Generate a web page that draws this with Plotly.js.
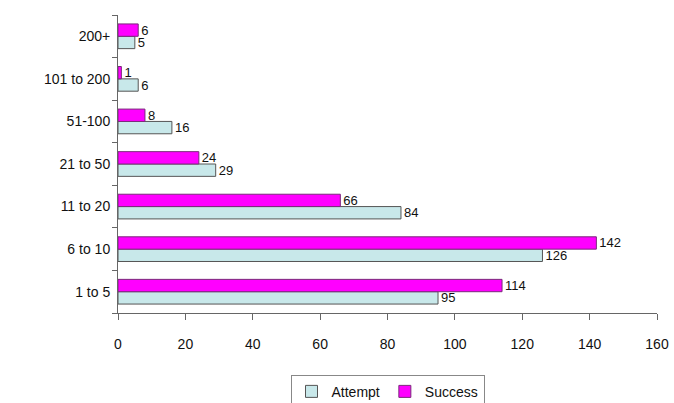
<!DOCTYPE html>
<html><head><meta charset="utf-8">
<script src="https://cdn.plot.ly/plotly-3.0.1.min.js"></script>
<style>body{margin:0;background:#fff}#c{width:674px;height:403px}</style>
</head><body><div id="c"></div>
<script>
const categories = ["1 to 5", "6 to 10", "11 to 20", "21 to 50", "51-100", "101 to 200", "200+"];
const attempt = [95, 126, 84, 29, 16, 6, 5];
const success = [114, 142, 66, 24, 8, 1, 6];
const xTicks = [0, 20, 40, 60, 80, 100, 120, 140, 160];

const common = {type: 'bar', orientation: 'h', textposition: 'outside', cliponaxis: false,
  constraintext: 'none', textangle: 0,
  textfont: {family: 'Arial, Liberation Sans', size: 13, color: '#111'}};
const traces = [
  Object.assign({}, common, {name: 'Attempt', x: attempt, y: categories, text: attempt.map(String),
    marker: {color: '#c8e8ea', line: {color: '#555', width: 1}}}),
  Object.assign({}, common, {name: 'Success', x: success, y: categories, text: success.map(String),
    marker: {color: '#ff00ff', line: {color: '#7a2a7a', width: 1}}})
];
const layout = {
  width: 674, height: 403,
  margin: {l: 118, r: 17, t: 15, b: 90, autoexpand: false},
  paper_bgcolor: '#fff', plot_bgcolor: '#fff',
  barmode: 'group', bargap: 0.42, bargroupgap: 0,
  font: {family: 'Arial, Liberation Sans', size: 14, color: '#111'},
  showlegend: true,
  legend: {orientation: 'h', x: 0.5, xanchor: 'center', yref: 'container', y: 0.07, yanchor: 'top',
    bordercolor: '#888', borderwidth: 1, font: {size: 14, color: '#111'},
    itemwidth: 30, traceorder: 'normal', tracegroupgap: 0},
  xaxis: {range: [0, 160], tickvals: xTicks, ticktext: xTicks.map(String), showgrid: false, zeroline: false,
    showline: true, linecolor: '#666', linewidth: 1, ticks: 'outside', ticklen: 6, tickcolor: '#666',
    ticklabelstandoff: 12, tickfont: {size: 14}, automargin: false},
  yaxis: {type: 'category', categoryarray: categories, showgrid: false, zeroline: false,
    showline: true, linecolor: '#666', linewidth: 1, ticks: 'outside', tickson: 'boundaries',
    ticklen: 5, tickcolor: '#666', ticklabelstandoff: 4, tickfont: {size: 14}, automargin: false}
};
Plotly.newPlot('c', traces, layout, {displayModeBar: false, staticPlot: true});
</script></body></html>
